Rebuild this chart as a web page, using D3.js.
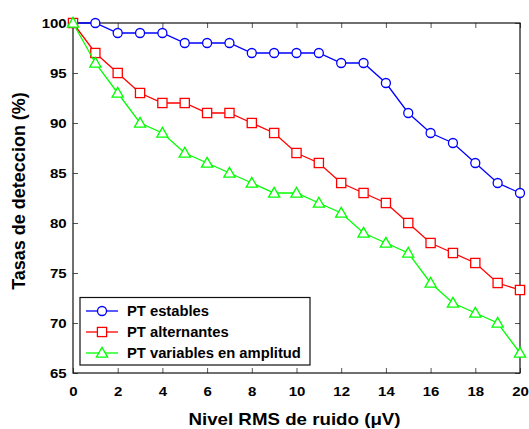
<!DOCTYPE html>
<html>
<head>
<meta charset="utf-8">
<script src="https://cdn.jsdelivr.net/npm/d3@7"></script>
<style>
  html, body { margin: 0; padding: 0; background: #fff; }
  svg { display: block; font-family: "Liberation Sans", Arial, sans-serif; }
</style>
</head>
<body>
<svg id="chart" width="529" height="429"></svg>
<script>
// Noise level (µV) on the x axis
const noiseLevels = [0,1,2,3,4,5,6,7,8,9,10,11,12,13,14,15,16,17,18,19,20];

// Detection rates (%) per T-wave class
const ptEstables     = [100,100,99,99,99,98,98,98,97,97,97,97,96,96,94,91,89,88,86,84,83];
const ptAlternantes  = [100,97,95,93,92,92,91,91,90,89,87,86,84,83,82,80,78,77,76,74,73.3];
const ptVariables    = [100,96,93,90,89,87,86,85,84,83,83,82,81,79,78,77,74,72,71,70,67];

const seriesNames = ["PT estables", "PT alternantes", "PT variables en amplitud"];
const xTicks = [0,2,4,6,8,10,12,14,16,18,20];
const yTicks = [65,70,75,80,85,90,95,100];

const svg = d3.select("#chart");
const plot = { left: 73, right: 520, top: 23, bottom: 373 };

const x = d3.scaleLinear().domain([0, 20]).range([plot.left, plot.right]);
const y = d3.scaleLinear().domain([65, 100]).range([plot.bottom, plot.top]);

// Inward ticks on all four sides; labels in a wide bold face
const tickColor = "#555";
const tickLabel = g => g.selectAll("text")
  .attr("font-size", 12.5).attr("font-weight", "bold").attr("fill", "#000");

svg.append("g").attr("transform", `translate(0,${plot.bottom})`)
  .call(d3.axisBottom(x).tickValues(xTicks).tickSize(-5).tickFormat(d3.format("d")))
  .call(g => g.select(".domain").remove())
  .call(g => g.selectAll("line").attr("stroke", tickColor))
  .call(tickLabel)
  .call(g => g.selectAll("text").attr("y", 23).attr("dy", 0).attr("transform", "scale(1.2,1)"));

svg.append("g").attr("transform", `translate(0,${plot.top})`)
  .call(d3.axisTop(x).tickValues(xTicks).tickSize(-5).tickFormat(""))
  .call(g => g.select(".domain").remove())
  .call(g => g.selectAll("line").attr("stroke", tickColor));

svg.append("g").attr("transform", `translate(${plot.left},0)`)
  .call(d3.axisLeft(y).tickValues(yTicks).tickSize(-5).tickFormat(d3.format("d")))
  .call(g => g.select(".domain").remove())
  .call(g => g.selectAll("line").attr("stroke", tickColor))
  .call(tickLabel)
  .call(g => g.selectAll("text").attr("x", -5.3).attr("dy", "0.36em").attr("transform", "scale(1.2,1)"));

svg.append("g").attr("transform", `translate(${plot.right},0)`)
  .call(d3.axisRight(y).tickValues(yTicks).tickSize(-5).tickFormat(""))
  .call(g => g.select(".domain").remove())
  .call(g => g.selectAll("line").attr("stroke", tickColor));

// Plot frame
svg.append("rect")
  .attr("x", plot.left).attr("y", plot.top)
  .attr("width", plot.right - plot.left).attr("height", plot.bottom - plot.top)
  .attr("fill", "none").attr("stroke", "#111").attr("stroke-width", 1.2);

const series = [
  { name: seriesNames[0], values: ptEstables,    color: "#0000ff", symbol: "circle" },
  { name: seriesNames[1], values: ptAlternantes, color: "#ff0000", symbol: "square" },
  { name: seriesNames[2], values: ptVariables,   color: "#00ff00", symbol: "triangle" }
];

function drawMarker(g, type, cx, cy, color) {
  if (type === "circle") {
    g.append("circle").attr("cx", cx).attr("cy", cy).attr("r", 4.5)
      .attr("fill", "#fff").attr("stroke", color).attr("stroke-width", 1.3);
  } else if (type === "square") {
    g.append("rect").attr("x", cx - 4.6).attr("y", cy - 4.6).attr("width", 9.2).attr("height", 9.2)
      .attr("fill", "#fff").attr("stroke", color).attr("stroke-width", 1.3);
  } else {
    const s = 5.6;
    g.append("path")
      .attr("d", `M${cx},${cy - s}L${cx + s},${cy + s * 0.75}L${cx - s},${cy + s * 0.75}Z`)
      .attr("fill", "#fff").attr("stroke", color).attr("stroke-width", 1.3);
  }
}

const line = d3.line().x((d, i) => x(noiseLevels[i])).y(d => y(d));

series.forEach(s => {
  const g = svg.append("g");
  g.append("path").datum(s.values)
    .attr("d", line).attr("fill", "none")
    .attr("stroke", s.color).attr("stroke-width", 1.3);
  s.values.forEach((v, i) => drawMarker(g, s.symbol, x(noiseLevels[i]), y(v), s.color));
});

// Legend
const lg = svg.append("g");
lg.append("rect").attr("x", 80).attr("y", 297.5).attr("width", 230).attr("height", 67.5)
  .attr("fill", "#fff").attr("stroke", "#111").attr("stroke-width", 1.2);
series.forEach((s, i) => {
  const ly = 311 + i * 21;
  lg.append("line").attr("x1", 86).attr("x2", 118).attr("y1", ly).attr("y2", ly)
    .attr("stroke", s.color).attr("stroke-width", 1.3);
  drawMarker(lg, s.symbol, 102, ly, s.color);
  lg.append("text").attr("transform", `translate(127,${ly + 5}) scale(1.07,1)`)
    .attr("font-size", 13.8).attr("font-weight", "bold").text(s.name);
});

// Axis titles
svg.append("text").attr("transform", "translate(294.5,425) scale(1.17,1)").attr("text-anchor", "middle")
  .attr("font-size", 16).attr("font-weight", "bold").text("Nivel RMS de ruido (\u03BCV)");
svg.append("text").attr("transform", "translate(25,191) rotate(-90)").attr("text-anchor", "middle")
  .attr("font-size", 18).attr("font-weight", "bold").text("Tasas de deteccion (%)");
</script>
</body>
</html>
